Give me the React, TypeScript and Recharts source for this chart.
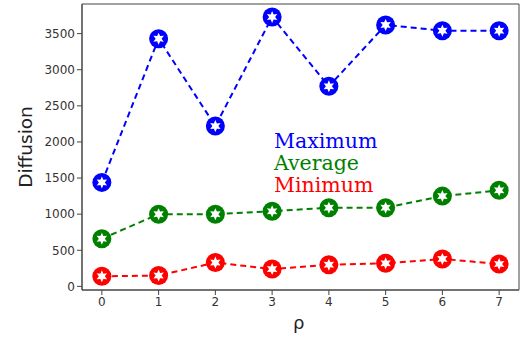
import React from 'react';
import { LineChart, Line, XAxis, YAxis, ReferenceArea } from 'recharts';

const rho = [0, 1, 2, 3, 4, 5, 6, 7];
const maximum = [1440, 3430, 2220, 3730, 2770, 3620, 3540, 3540];
const average = [660, 1000, 1000, 1040, 1090, 1090, 1250, 1330];
const minimum = [140, 150, 330, 240, 300, 320, 380, 310];
const yTicks = [0, 500, 1000, 1500, 2000, 2500, 3000, 3500];

const data = rho.map((r, i) => ({ rho: r, max: maximum[i], avg: average[i], min: minimum[i] }));

const starPath = (cx: number, cy: number, r: number) => {
  const pts: string[] = [];
  for (let i = 0; i < 12; i++) {
    const a = -Math.PI / 2 + (i * Math.PI) / 6;
    const rad = i % 2 === 0 ? r : r * 0.5;
    pts.push(`${cx + rad * Math.cos(a)},${cy + rad * Math.sin(a)}`);
  }
  return `M${pts.join('L')}Z`;
};

const StarDot = (color: string) => (props: any) => {
  const { cx, cy, index } = props;
  if (cx == null || cy == null) return <g key={index} />;
  return (
    <g key={index}>
      <circle cx={cx} cy={cy} r={9.5} fill={color} />
      <path d={starPath(cx, cy, 6)} fill="#fff" />
    </g>
  );
};

const tickStyle = { fontSize: 12, fill: '#333', fontFamily: 'DejaVu Sans' };
const legendStyle: React.CSSProperties = {
  position: 'absolute',
  left: 274,
  fontFamily: 'DejaVu Serif',
  fontSize: 20.5,
  lineHeight: '22px',
};

export default function App() {
  return (
    <div style={{ position: 'absolute', left: 0, top: 0, width: 521, height: 343, background: '#fff' }}>
      <LineChart width={521} height={343} data={data} margin={{ top: 4, right: 2, bottom: 28, left: 32 }}>
        <XAxis
          dataKey="rho"
          type="number"
          domain={[-0.35, 7.35]}
          ticks={rho}
          height={25}
          tick={tickStyle}
          tickSize={5}
          stroke="#444"
          allowDataOverflow
        />
        <YAxis
          type="number"
          domain={[-50, 3910]}
          ticks={yTicks}
          width={50}
          tick={tickStyle}
          tickSize={5}
          stroke="#444"
          allowDataOverflow
        />
        <ReferenceArea x1={-0.35} x2={7.35} y1={-50} y2={3910} fill="none" stroke="#444" strokeWidth={1} />
        <Line dataKey="max" stroke="#0000ff" strokeWidth={2} strokeDasharray="6 4" dot={StarDot('#0000ff')} isAnimationActive={false} />
        <Line dataKey="avg" stroke="#008000" strokeWidth={2} strokeDasharray="6 4" dot={StarDot('#008000')} isAnimationActive={false} />
        <Line dataKey="min" stroke="#ff0000" strokeWidth={2} strokeDasharray="6 4" dot={StarDot('#ff0000')} isAnimationActive={false} />
      </LineChart>
      <div
        style={{
          position: 'absolute',
          left: 25,
          top: 147,
          transform: 'translate(-50%, -50%) rotate(-90deg)',
          fontFamily: 'DejaVu Sans',
          fontSize: 18.5,
          color: '#222',
        }}
      >
        Diffusion
      </div>
      <div style={{ position: 'absolute', left: 293, top: 312, fontFamily: 'DejaVu Sans', fontSize: 18, color: '#222' }}>ρ</div>
      <div style={{ ...legendStyle, top: 130, color: '#0000ff' }}>Maximum</div>
      <div style={{ ...legendStyle, top: 152, color: '#008000' }}>Average</div>
      <div style={{ ...legendStyle, top: 174, color: '#ff0000' }}>Minimum</div>
    </div>
  );
}
